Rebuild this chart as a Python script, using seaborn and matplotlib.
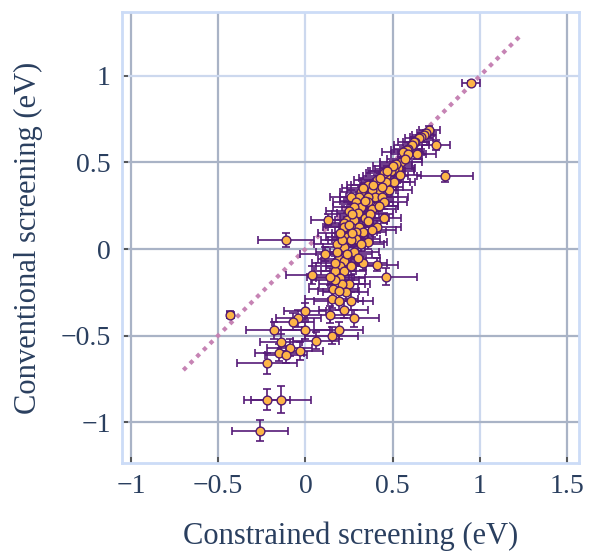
import pandas as pd
import matplotlib.pyplot as plt
import seaborn as sns

# screening energies (eV): constrained vs conventional, with uncertainties
x_vals = [
    # upper diagonal
    0.71, 0.69, 0.68, 0.66, 0.65, 0.63, 0.62, 0.61, 0.59, 0.58,
    0.56, 0.59, 0.64, 0.75, 0.55, 0.53, 0.51, 0.49, 0.54, 0.46,
    0.45, 0.52, 0.50, 0.57, 0.95, 0.80,
    # middle cluster
    0.51, 0.46, 0.41, 0.36, 0.42, 0.48, 0.38, 0.32, 0.40, 0.44,
    0.31, 0.36, 0.26, 0.29, 0.36, 0.41, 0.32, 0.45, 0.28, 0.38,
    0.42, 0.25, 0.30, 0.34, 0.37, 0.24, 0.28, 0.45, 0.13, 0.26,
    0.31, 0.41, 0.36, 0.33, 0.39, 0.43, 0.34, 0.27, 0.22, 0.33,
    0.29, 0.38, 0.44, 0.47,
    # lower tail
    0.22, 0.25, 0.24, 0.29, 0.26, 0.22, 0.36, 0.32, 0.28, 0.19,
    0.22, 0.20, 0.17, 0.17, 0.33, 0.41, 0.22, 0.20, 0.25, 0.21,
    0.46, 0.11, 0.04, 0.16, 0.15, 0.19, 0.26, 0.22, 0.00, 0.14,
    0.28, -0.04, -0.07, 0.15, 0.19, -0.18, 0.00, 0.06, -0.14, -0.09,
    -0.15, -0.11, -0.03, -0.22, -0.22, -0.14, -0.26, -0.43, -0.11, 0.18,
    0.21, 0.24, 0.30, 0.18, 0.26, 0.23, 0.19, 0.17, 0.14, 0.27,
    0.20,
]
y_vals = [
    0.69, 0.67, 0.66, 0.65, 0.64, 0.62, 0.62, 0.60, 0.58, 0.57,
    0.56, 0.55, 0.55, 0.60, 0.50, 0.47, 0.46, 0.45, 0.43, 0.42,
    0.44, 0.49, 0.48, 0.52, 0.96, 0.42,
    0.39, 0.39, 0.40, 0.37, 0.34, 0.34, 0.34, 0.33, 0.30, 0.30,
    0.30, 0.30, 0.30, 0.27, 0.27, 0.25, 0.24, 0.27, 0.24, 0.23,
    0.25, 0.22, 0.21, 0.18, 0.20, 0.17, 0.17, 0.18, 0.17, 0.13,
    0.13, 0.13, 0.16, 0.35, 0.37, 0.41, 0.28, 0.20, 0.15, 0.10,
    0.10, 0.11, 0.36, 0.45,
    0.13, 0.14, 0.07, 0.06, 0.05, 0.01, 0.04, 0.03, -0.02, -0.06,
    -0.07, -0.10, -0.13, -0.08, -0.08, -0.09, -0.13, -0.17, -0.20, -0.20,
    -0.16, -0.03, -0.15, -0.23, -0.29, -0.30, -0.30, -0.35, -0.36, -0.38,
    -0.40, -0.40, -0.42, -0.50, -0.47, -0.47, -0.47, -0.53, -0.54, -0.57,
    -0.60, -0.61, -0.59, -0.66, -0.87, -0.87, -1.05, -0.38, 0.05, 0.03,
    0.05, -0.03, -0.05, -0.02, -0.10, -0.25, -0.24, -0.18, -0.16, 0.09,
    0.09,
]
x_err = [
    0.06, 0.05, 0.07, 0.06, 0.08, 0.07, 0.09, 0.10, 0.08, 0.09,
    0.12, 0.10, 0.11, 0.08, 0.12, 0.10, 0.11, 0.13, 0.12, 0.13,
    0.10, 0.09, 0.11, 0.10, 0.05, 0.16,
    0.12, 0.14, 0.13, 0.12, 0.11, 0.13, 0.14, 0.12, 0.13, 0.15,
    0.11, 0.13, 0.12, 0.13, 0.14, 0.12, 0.11, 0.13, 0.12, 0.14,
    0.11, 0.13, 0.12, 0.14, 0.13, 0.12, 0.11, 0.10, 0.10, 0.13,
    0.12, 0.14, 0.11, 0.12, 0.13, 0.12, 0.14, 0.12, 0.11, 0.13,
    0.12, 0.14, 0.12, 0.10,
    0.12, 0.13, 0.12, 0.14, 0.13, 0.12, 0.11, 0.13, 0.14, 0.12,
    0.13, 0.14, 0.12, 0.13, 0.14, 0.12, 0.13, 0.14, 0.12, 0.13,
    0.18, 0.14, 0.15, 0.14, 0.15, 0.14, 0.13, 0.14, 0.12, 0.13,
    0.14, 0.13, 0.12, 0.15, 0.14, 0.16, 0.14, 0.13, 0.12, 0.13,
    0.14, 0.12, 0.13, 0.17, 0.13, 0.17, 0.16, 0.02, 0.16, 0.13,
    0.12, 0.14, 0.13, 0.12, 0.14, 0.13, 0.12, 0.14, 0.13, 0.12,
    0.13,
]
y_err = [
    0.02, 0.02, 0.02, 0.02, 0.02, 0.02, 0.03, 0.02, 0.03, 0.02,
    0.03, 0.02, 0.03, 0.03, 0.03, 0.03, 0.02, 0.03, 0.03, 0.03,
    0.03, 0.02, 0.03, 0.02, 0.01, 0.03,
    0.03, 0.03, 0.03, 0.03, 0.03, 0.03, 0.04, 0.03, 0.03, 0.04,
    0.03, 0.03, 0.04, 0.03, 0.04, 0.03, 0.03, 0.04, 0.03, 0.04,
    0.03, 0.04, 0.03, 0.04, 0.03, 0.04, 0.03, 0.03, 0.03, 0.04,
    0.03, 0.04, 0.03, 0.03, 0.03, 0.03, 0.04, 0.03, 0.04, 0.04,
    0.03, 0.04, 0.03, 0.03,
    0.04, 0.04, 0.04, 0.04, 0.04, 0.04, 0.04, 0.04, 0.04, 0.04,
    0.05, 0.04, 0.05, 0.04, 0.04, 0.04, 0.05, 0.05, 0.05, 0.05,
    0.05, 0.04, 0.05, 0.05, 0.05, 0.05, 0.05, 0.05, 0.05, 0.05,
    0.05, 0.05, 0.05, 0.05, 0.05, 0.05, 0.05, 0.05, 0.05, 0.05,
    0.05, 0.05, 0.05, 0.06, 0.06, 0.08, 0.06, 0.02, 0.04, 0.04,
    0.04, 0.04, 0.04, 0.04, 0.05, 0.05, 0.05, 0.05, 0.05, 0.04,
    0.04,
]

# y = x reference line
diag = [-0.70, 1.23]

x_ticks = [-1, -0.5, 0, 0.5, 1, 1.5]
y_ticks = [-1, -0.5, 0, 0.5, 1]

df = pd.DataFrame({"x": x_vals, "y": y_vals, "xe": x_err, "ye": y_err})

sns.set_theme(style="white")
plt.rcParams["font.family"] = ["Liberation Serif", "DejaVu Serif"]
text_col = "#2a3f5f"

fig = plt.figure(figsize=(5.91, 5.52), dpi=100)
ax = fig.add_axes([0.2064, 0.1612, 0.7733, 0.8171])

ax.plot(diag, diag, color="#c683b4", lw=3.0, linestyle=(0, (1, 1.25)), zorder=1)

ax.errorbar(df["x"], df["y"], xerr=df["xe"], yerr=df["ye"], fmt="none",
            ecolor="#561a78", elinewidth=1.2, capsize=3.0, capthick=1.2, zorder=2)
sns.scatterplot(data=df, x="x", y="y", ax=ax, s=40, color="#fdb547",
                edgecolor="#521a70", linewidth=1.0, zorder=3)

ax.set_xlim(-1.052, 1.569)
ax.set_ylim(-1.237, 1.37)
ax.set_xticks(x_ticks)
ax.set_yticks(y_ticks)
ax.set_xticklabels(["\u22121", "\u22120.5", "0", "0.5", "1", "1.5"])
ax.set_yticklabels(["\u22121", "\u22120.5", "0", "0.5", "1"])

ax.grid(True, lw=1.6, zorder=0)
ax.set_axisbelow(True)
dark, light = "#a9b3c6", "#ccd8ee"
for g, c in zip(ax.get_xgridlines(), [dark, dark, light, dark, light, dark]):
    g.set_color(c)
for g, c in zip(ax.get_ygridlines(), [dark, dark, dark, dark, light]):
    g.set_color(c)

for s in ax.spines.values():
    s.set_color("#ccdcf7")
    s.set_linewidth(2)

ax.tick_params(direction="in", length=4, width=1.2, color="#444444",
               labelsize=20, labelcolor=text_col, pad=8,
               bottom=True, left=True)
ax.set_xlabel("Constrained screening (eV)", fontsize=22, color=text_col, labelpad=16)
ax.set_ylabel("Conventional screening (eV)", fontsize=22, color=text_col, labelpad=13)

fig.savefig("out.png", dpi=100)
